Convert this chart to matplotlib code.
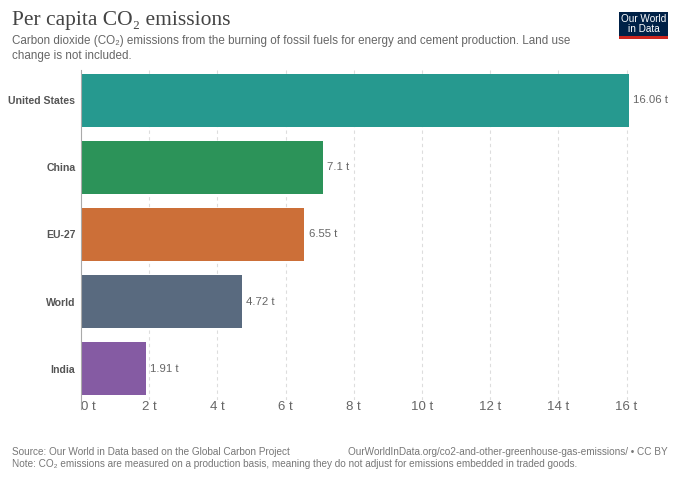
import matplotlib
matplotlib.use("Agg")
import matplotlib.pyplot as plt
from matplotlib.patches import Rectangle

categories = ["United States", "China", "EU-27", "World", "India"]
values = [16.06, 7.1, 6.55, 4.72, 1.91]
value_labels = ["16.06 t", "7.1 t", "6.55 t", "4.72 t", "1.91 t"]
colors = ["#26998f", "#2c9359", "#cc6f38", "#596a7f", "#855ba3"]
xticks = [0, 2, 4, 6, 8, 10, 12, 14, 16]
xtick_labels = ["0 t", "2 t", "4 t", "6 t", "8 t", "10 t", "12 t", "14 t", "16 t"]

SANS = ["Liberation Sans", "DejaVu Sans"]
SERIF = ["Liberation Serif", "DejaVu Serif"]

fig = plt.figure(figsize=(6.8, 4.8), dpi=100)
fig.patch.set_facecolor("white")

W, H = 680, 480
left_px, right_px = 81, 81 + 16.06 * 34.1
top_px, bot_px = 70, 400
ax = fig.add_axes([left_px / W, 1 - bot_px / H, (right_px - left_px) / W, (bot_px - top_px) / H])

ypos = list(range(len(categories)))
ax.barh(ypos, values, height=0.79, color=colors, zorder=3)
ax.set_xlim(0, 16.06)
ax.set_ylim(4.47, -0.455)

for y, v, lab in zip(ypos, values, value_labels):
    ax.annotate(lab, (v, y), xytext=(3, 0), textcoords="offset points",
                va="center", ha="left", fontsize=8.2, color="#666666", family=SANS)

ax.set_yticks(ypos)
ax.set_yticklabels(categories, fontsize=7.6, fontweight="bold", color="#555555", family=SANS)
ax.set_xticks(xticks)
ax.set_xticklabels(xtick_labels, fontsize=9.5, color="#666666", family=SANS)
ax.tick_params(axis="y", length=0, pad=4)
ax.tick_params(axis="x", length=0, pad=1)
ax.get_xticklabels()[0].set_horizontalalignment("left")

for xv in xticks[1:]:
    ax.axvline(xv, color="#dddddd", linestyle=(0, (3, 3)), linewidth=0.8, zorder=1)

for s in ["top", "right", "bottom"]:
    ax.spines[s].set_visible(False)
ax.spines["left"].set_color("#aaaaaa")
ax.spines["left"].set_linewidth(0.8)
ax.spines["left"].set_bounds(4.6, -0.455)
ax.spines["left"].set_zorder(4)

# Title and subtitle
fig.text(12 / W, 1 - 20 / H, "Per capita CO₂ emissions", fontsize=15.5, color="#444444",
         family=SERIF, va="center", ha="left")
fig.text(12 / W, 1 - 41 / H, "Carbon dioxide (CO₂) emissions from the burning of fossil fuels for energy and cement production. Land use",
         fontsize=8.4, color="#666666", family=SANS, va="center", ha="left")
fig.text(12 / W, 1 - 56 / H, "change is not included.",
         fontsize=8.4, color="#666666", family=SANS, va="center", ha="left")

# Logo
lx0, lx1, ly0, ly1 = 619, 668, 12, 39
fig.patches.append(Rectangle((lx0 / W, 1 - ly1 / H), (lx1 - lx0) / W, (ly1 - ly0) / H,
                             transform=fig.transFigure, facecolor="#002147", edgecolor="none"))
fig.patches.append(Rectangle((lx0 / W, 1 - ly1 / H), (lx1 - lx0) / W, 2.5 / H,
                             transform=fig.transFigure, facecolor="#ce261e", edgecolor="none"))
fig.text((lx0 + lx1) / 2 / W, 1 - 24.5 / H, "Our World\nin Data", fontsize=7.2, color="white",
         family=SANS, va="center", ha="center", linespacing=1.0)

# Footer
fig.text(12 / W, 1 - 452 / H, "Source: Our World in Data based on the Global Carbon Project",
         fontsize=7.2, color="#777777", family=SANS, va="center", ha="left")
fig.text(668 / W, 1 - 452 / H, "OurWorldInData.org/co2-and-other-greenhouse-gas-emissions/ • CC BY",
         fontsize=7.2, color="#777777", family=SANS, va="center", ha="right")
fig.text(12 / W, 1 - 464 / H, "Note: CO₂ emissions are measured on a production basis, meaning they do not adjust for emissions embedded in traded goods.",
         fontsize=7.2, color="#777777", family=SANS, va="center", ha="left")

fig.savefig("out.png", dpi=100, facecolor="white")
